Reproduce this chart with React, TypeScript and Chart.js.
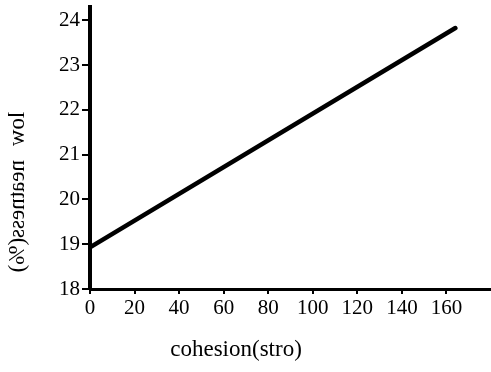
import React, { useEffect, useRef } from "react";
import { Chart, registerables } from "chart.js";

Chart.register(...registerables);

const lineX = [0, 164];
const lineY = [18.93, 23.83];
const xTickValues = [0, 20, 40, 60, 80, 100, 120, 140, 160];
const yTickValues = [18, 19, 20, 21, 22, 23, 24];
const xTitle = "cohesion(stro)";
const yTitle = "low neatness(%)";

const FONT = "'Liberation Serif', 'DejaVu Serif', serif";

const titlesPlugin = {
  id: "titles",
  afterDraw(chart: any) {
    const ctx = chart.ctx;
    ctx.save();
    ctx.fillStyle = "#000";
    ctx.font = `23px ${FONT}`;
    ctx.textAlign = "center";
    ctx.textBaseline = "middle";
    ctx.fillText(xTitle, 236, 350);
    ctx.restore();

    ctx.save();
    ctx.fillStyle = "#000";
    ctx.font = `23px ${FONT}`;
    (ctx as any).wordSpacing = "8px";
    ctx.textAlign = "center";
    ctx.textBaseline = "middle";
    ctx.translate(18, 192);
    ctx.rotate(Math.PI / 2);
    ctx.scale(1, -1);
    ctx.fillText(yTitle, 0, 0);
    ctx.restore();
  },
};

export default function App() {
  const ref = useRef<HTMLCanvasElement | null>(null);
  useEffect(() => {
    document.body.style.margin = "0";
    const data = lineX.map((x, i) => ({ x, y: lineY[i] }));
    const chart = new Chart(ref.current!, {
      type: "scatter",
      data: {
        datasets: [
          {
            data,
            showLine: true,
            borderColor: "#000",
            borderWidth: 4.5,
            pointRadius: 0,
            borderCapStyle: "round",
          } as any,
        ],
      },
      options: {
        animation: false,
        responsive: false,
        maintainAspectRatio: false,
        layout: { padding: { top: 7, right: 0, left: 0, bottom: 0 } },
        plugins: { legend: { display: false }, tooltip: { enabled: false } },
        scales: {
          x: {
            type: "linear",
            min: 0,
            max: 180,
            afterBuildTicks: (s: any) => {
              s.ticks = xTickValues.map((v) => ({ value: v }));
            },
            afterFit: (s: any) => {
              s.height = 83;
              s.paddingLeft = 0;
              s.paddingRight = 0;
            },
            border: { display: true, color: "#000", width: 3 },
            grid: { display: true, drawOnChartArea: false, drawTicks: true, tickLength: 5, color: "#000", lineWidth: 2 },
            ticks: { color: "#000", font: { family: FONT, size: 21 }, padding: 2, maxRotation: 0, autoSkip: false },
          },
          y: {
            type: "linear",
            min: 18,
            max: 24.3,
            afterBuildTicks: (s: any) => {
              s.ticks = yTickValues.map((v) => ({ value: v }));
            },
            afterFit: (s: any) => {
              s.width = 90;
              s.paddingTop = 0;
              s.paddingBottom = 0;
            },
            border: { display: true, color: "#000", width: 4 },
            grid: { display: true, drawOnChartArea: false, drawTicks: true, tickLength: 8, color: "#000", lineWidth: 2 },
            ticks: { color: "#000", font: { family: FONT, size: 21 }, padding: 2, autoSkip: false },
          },
        },
      },
      plugins: [titlesPlugin],
    });
    return () => chart.destroy();
  }, []);
  return (
    <div style={{ width: 491, height: 372 }}>
      <canvas ref={ref} width={491} height={372} style={{ display: "block" }} />
    </div>
  );
}
